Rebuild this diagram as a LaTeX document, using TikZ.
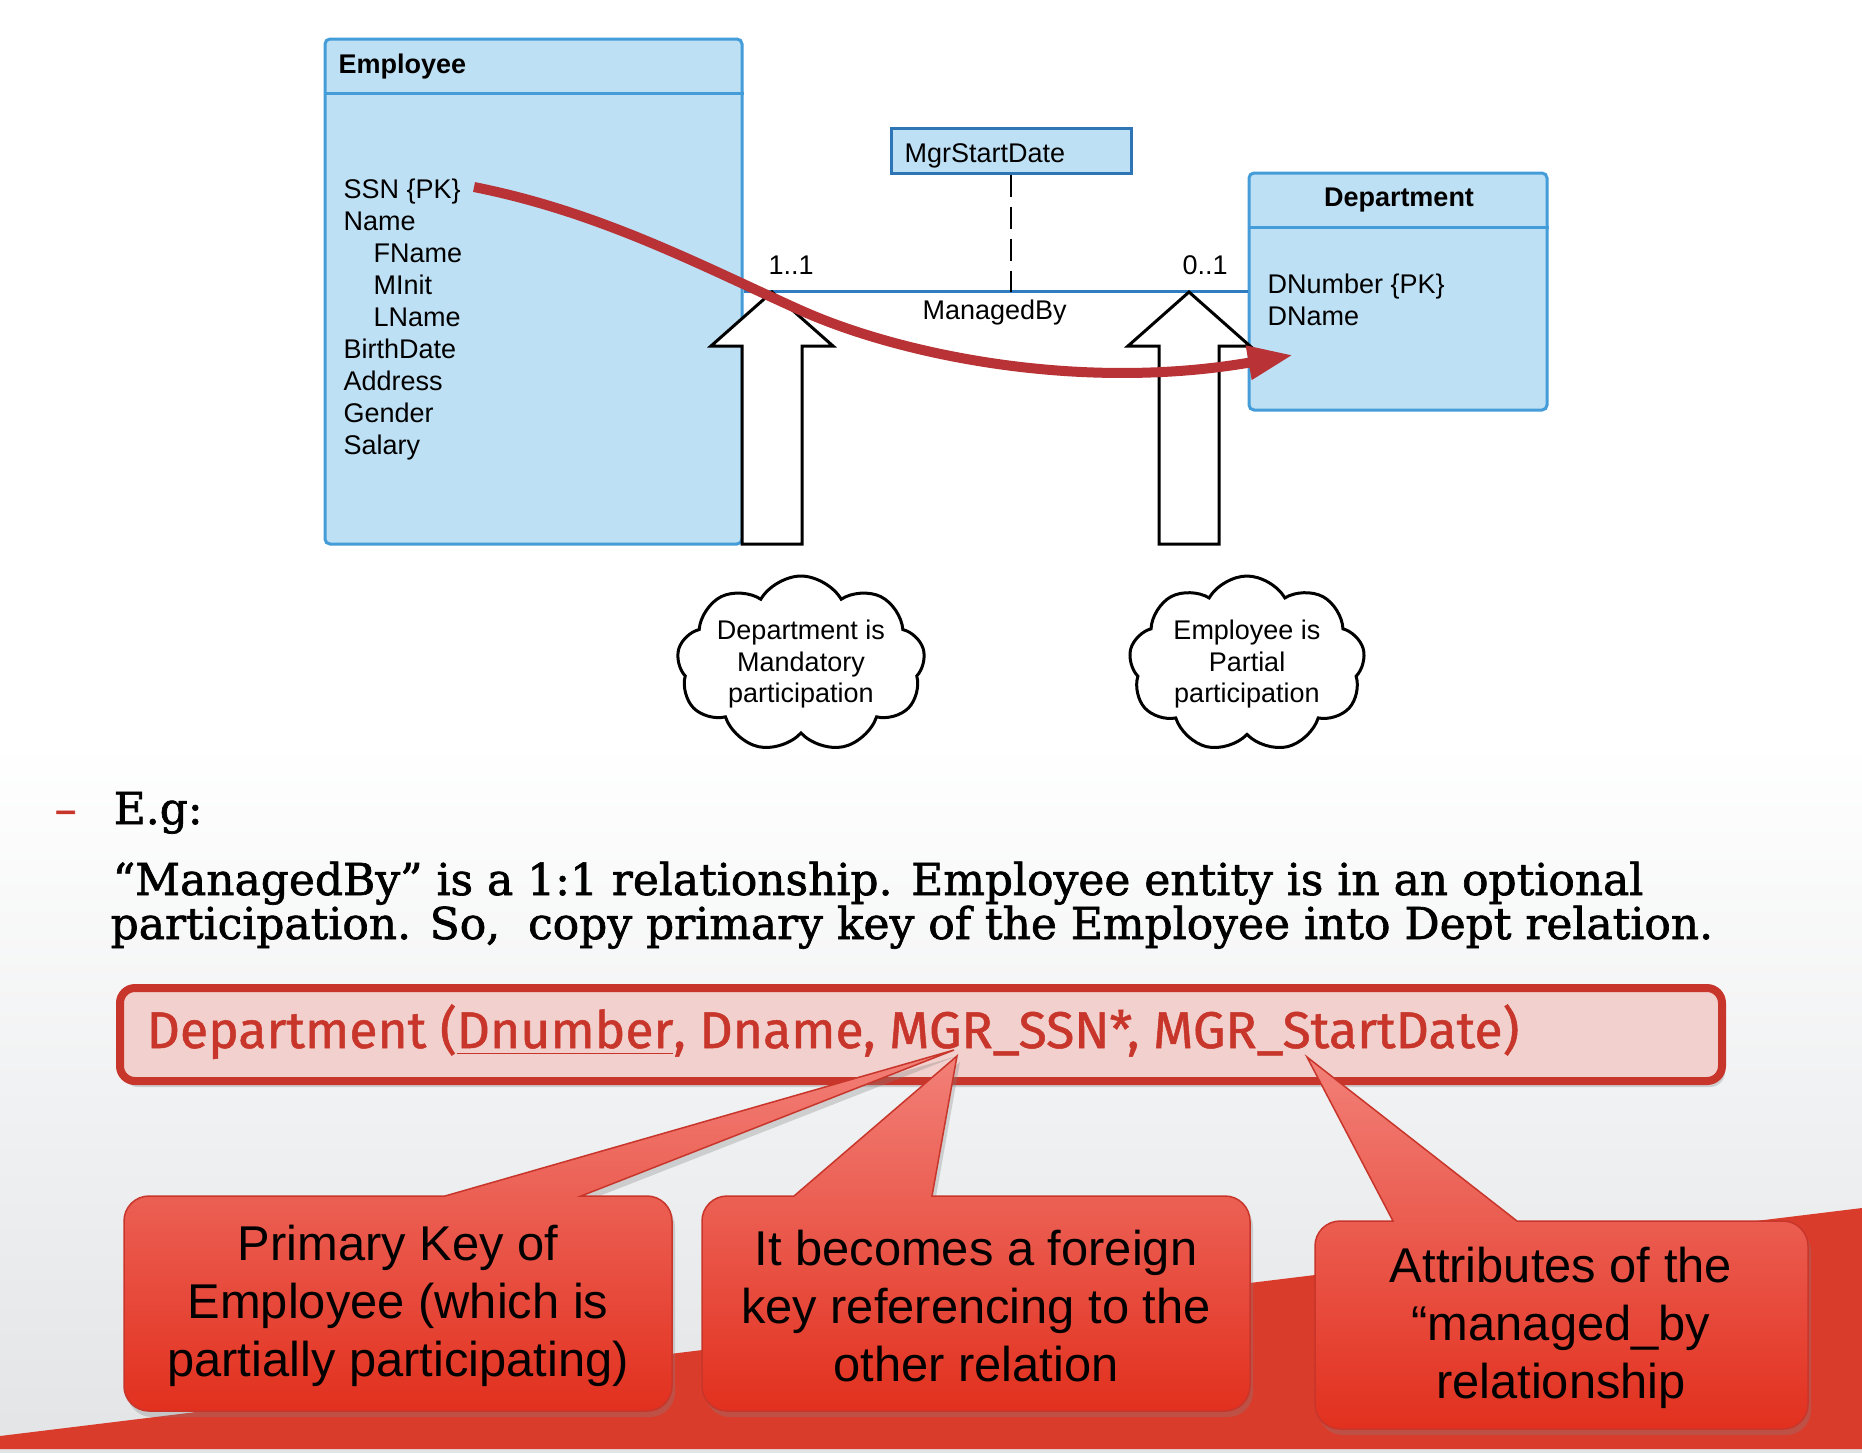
\documentclass[tikz,border=0pt]{standalone}
\usepackage{fontspec}
\setmainfont{Liberation Sans}
\newfontfamily\slidefont[FakeBold=1.5]{DejaVu Serif}
\newfontfamily\relfont[FakeBold=1]{Fira Sans}
\usetikzlibrary{arrows.meta, shapes.symbols, shadows}

\definecolor{entfill}{RGB}{190,224,244}
\definecolor{entline}{RGB}{68,156,216}
\definecolor{mgrline}{RGB}{46,117,182}
\definecolor{relblue}{RGB}{47,125,192}
\definecolor{keyred}{RGB}{184,50,54}
\definecolor{boxred}{RGB}{200,54,43}
\definecolor{boxpink}{RGB}{242,208,205}
\definecolor{bandred}{RGB}{218,60,44}
\definecolor{bggray}{RGB}{226,228,230}
\definecolor{notetop}{RGB}{242,128,120}
\definecolor{notebottom}{RGB}{226,48,30}

\newcommand{\diafont}{\fontsize{7.68}{9.1}\selectfont}
\newcommand{\notefont}{\fontsize{13.9}{16.6}\selectfont}

\begin{document}
\begin{tikzpicture}[x=0.1mm, y=-0.1mm,
	entity/.style = {draw=entline, fill=entfill, line width=0.3mm, rounded corners=0.5mm, inner sep=0pt},
	attr/.style = {anchor=base west, inner sep=0pt, font=\diafont},
	relline/.style = {draw=relblue, line width=0.3mm},
	dashline/.style = {line width=0.25mm, dash pattern=on 2.2mm off 1mm},
	blockarrow/.style = {draw=black, fill=white, line width=0.3mm, line join=miter},
	cloudnote/.style = {cloud, cloud puffs=9, cloud puff arc=120, cloud ignores aspect, draw=black, fill=white, line width=0.3mm, minimum width=23.6mm, minimum height=17.6mm, inner sep=0pt, align=center, font=\diafont},
	keyarrow/.style = {draw=keyred, line width=1mm, -{Triangle[length=4.5mm, width=3.2mm]}},
	slidetext/.style = {anchor=base west, inner sep=0pt, font=\slidefont\fontsize{12.5}{14}\selectfont},
	relbox/.style = {draw=boxred, fill=boxpink, line width=0.8mm, rounded corners=1.5mm, inner sep=0pt, drop shadow={opacity=0.3, shadow xshift=0.3mm, shadow yshift=-0.6mm}},
	calloutbox/.style = {draw=boxred, line width=0.15mm, top color=notetop, bottom color=notebottom, drop shadow={opacity=0.3, shadow xshift=0.3mm, shadow yshift=-0.6mm}},
	callouttext/.style = {inner sep=0pt, align=center, font=\notefont}
]
\useasboundingbox (0,0) rectangle (1862,1452);

% slide background
\fill[white] (0,0) rectangle (1862,740);
\shade[top color=white, bottom color=bggray] (0,740) rectangle (1862,1452);
\fill[bandred] (0,1436) -- (1862,1208) -- (1862,1449) -- (0,1449) -- cycle;

% entities
\node[entity, minimum width=41.7mm, minimum height=50.5mm] (emp) at (533.5,291.5) {};
\node[entity, minimum width=29.8mm, minimum height=23.7mm] (dept) at (1398,291.5) {};
\node[entity, draw=mgrline, rounded corners=0pt, minimum width=24mm, minimum height=4.5mm] (mgr) at (1011,150.5) {};
\draw[draw=entline, line width=0.3mm] ([yshift=-5.6mm]emp.north west) -- ([yshift=-5.6mm]emp.north east);
\draw[draw=entline, line width=0.3mm] ([yshift=-5.6mm]dept.north west) -- ([yshift=-5.6mm]dept.north east);

\node[attr, font=\diafont\bfseries] (emp-title) at (338,73) {Employee};
\foreach \t/\x [count=\i] in {SSN \{PK\}/343, Name/343, FName/373, MInit/373, LName/373, BirthDate/343, Address/343, Gender/343, Salary/343}
	\node[attr] (emp-\i) at (\x,166+32*\i) {\t};
\node[attr, anchor=base, font=\diafont\bfseries] (dept-title) at (1399,206) {Department};
\node[attr] (dept-1) at (1267,293) {DNumber \{PK\}};
\node[attr] (dept-2) at (1267,325) {DName};
\node[attr] (mgr-name) at (904,162) {MgrStartDate};

% relationship
\draw[relline] (emp.east) -- (dept.west);
\draw[dashline] (mgr.south) -- (mgr.south |- emp.east);
\node[attr] (card-emp) at (768,274) {1..1};
\node[attr] (card-dept) at (1182,274) {0..1};
\node[attr] (rel-name) at (922,319) {ManagedBy};

% participation arrows
\draw[blockarrow] (742,544) -- (742,346) -- (711,346) -- (772,292) -- (833,346) -- (802,346) -- (802,544) -- cycle;
\draw[blockarrow] (1159,544) -- (1159,346) -- (1128,346) -- (1189,292) -- (1250,346) -- (1219,346) -- (1219,544) -- cycle;
\node[cloudnote] (note-mand) at (801,664) {Department is\\Mandatory\\participation};
\node[cloudnote] (note-part) at (1247,664) {Employee is\\Partial\\participation};

% key copied into Department
\coordinate (ssn-out) at (474,187);
\coordinate (dept-in) at (1293,355);
\draw[keyarrow] (ssn-out) .. controls (600,212) and (700,265) .. (800,310) .. controls (900,355) and (1080,392) .. (dept-in);

% slide text
\node[slidetext, text=boxred] (bullet) at (54,824) {–};
\node[slidetext] (eg) at (113,824) {E.g:};
\node[slidetext] (line-1) at (112,895) {“ManagedBy” is a 1:1 relationship. Employee entity is in an optional};
\node[slidetext] (line-2) at (110,939) {participation. So,~ copy primary key of the Employee into Dept relation.};

% relation schema
\node[relbox, minimum width=160.2mm, minimum height=9.3mm] (relbox) at (921,1034.5) {};
\node[anchor=base west, inner sep=0pt, text=boxred, font=\relfont\fontsize{14.7}{17}\selectfont] (reltext) at (146,1048) {Department (\underline{Dnumber}, Dname, MGR\_SSN*, MGR\_StartDate)};

% callouts
\coordinate (tip-pk) at (954,1050);
\coordinate (tip-fk) at (957,1056);
\coordinate (tip-att) at (1307,1057);
\path[calloutbox] (124,1300) [rounded corners=2.5mm] -- (124,1196) [sharp corners] -- (445,1196) -- (tip-pk) -- (581,1196) [rounded corners=2.5mm] -- (672,1196) -- (672,1411) -- (124,1411) -- cycle;
\path[calloutbox] (702,1300) [rounded corners=2.5mm] -- (702,1196) [sharp corners] -- (794,1196) -- (tip-fk) -- (932,1196) [rounded corners=2.5mm] -- (1250,1196) -- (1250,1411) -- (702,1411) -- cycle;
\path[calloutbox] (1315,1325) [rounded corners=2.5mm] -- (1315,1221) [sharp corners] -- (1393,1221) -- (tip-att) -- (1517,1221) [rounded corners=2.5mm] -- (1808,1221) -- (1808,1429) -- (1315,1429) -- cycle;
\node[callouttext] (pk-note) at (398,1306) {Primary Key of\\Employee (which is\\partially participating)};
\node[callouttext] (fk-note) at (976,1306) {It becomes a foreign\\key referencing to the\\other relation};
\node[callouttext] (att-note) at (1561,1328) {Attributes of the\\“managed\_by\\relationship};

\end{tikzpicture}
\end{document}
